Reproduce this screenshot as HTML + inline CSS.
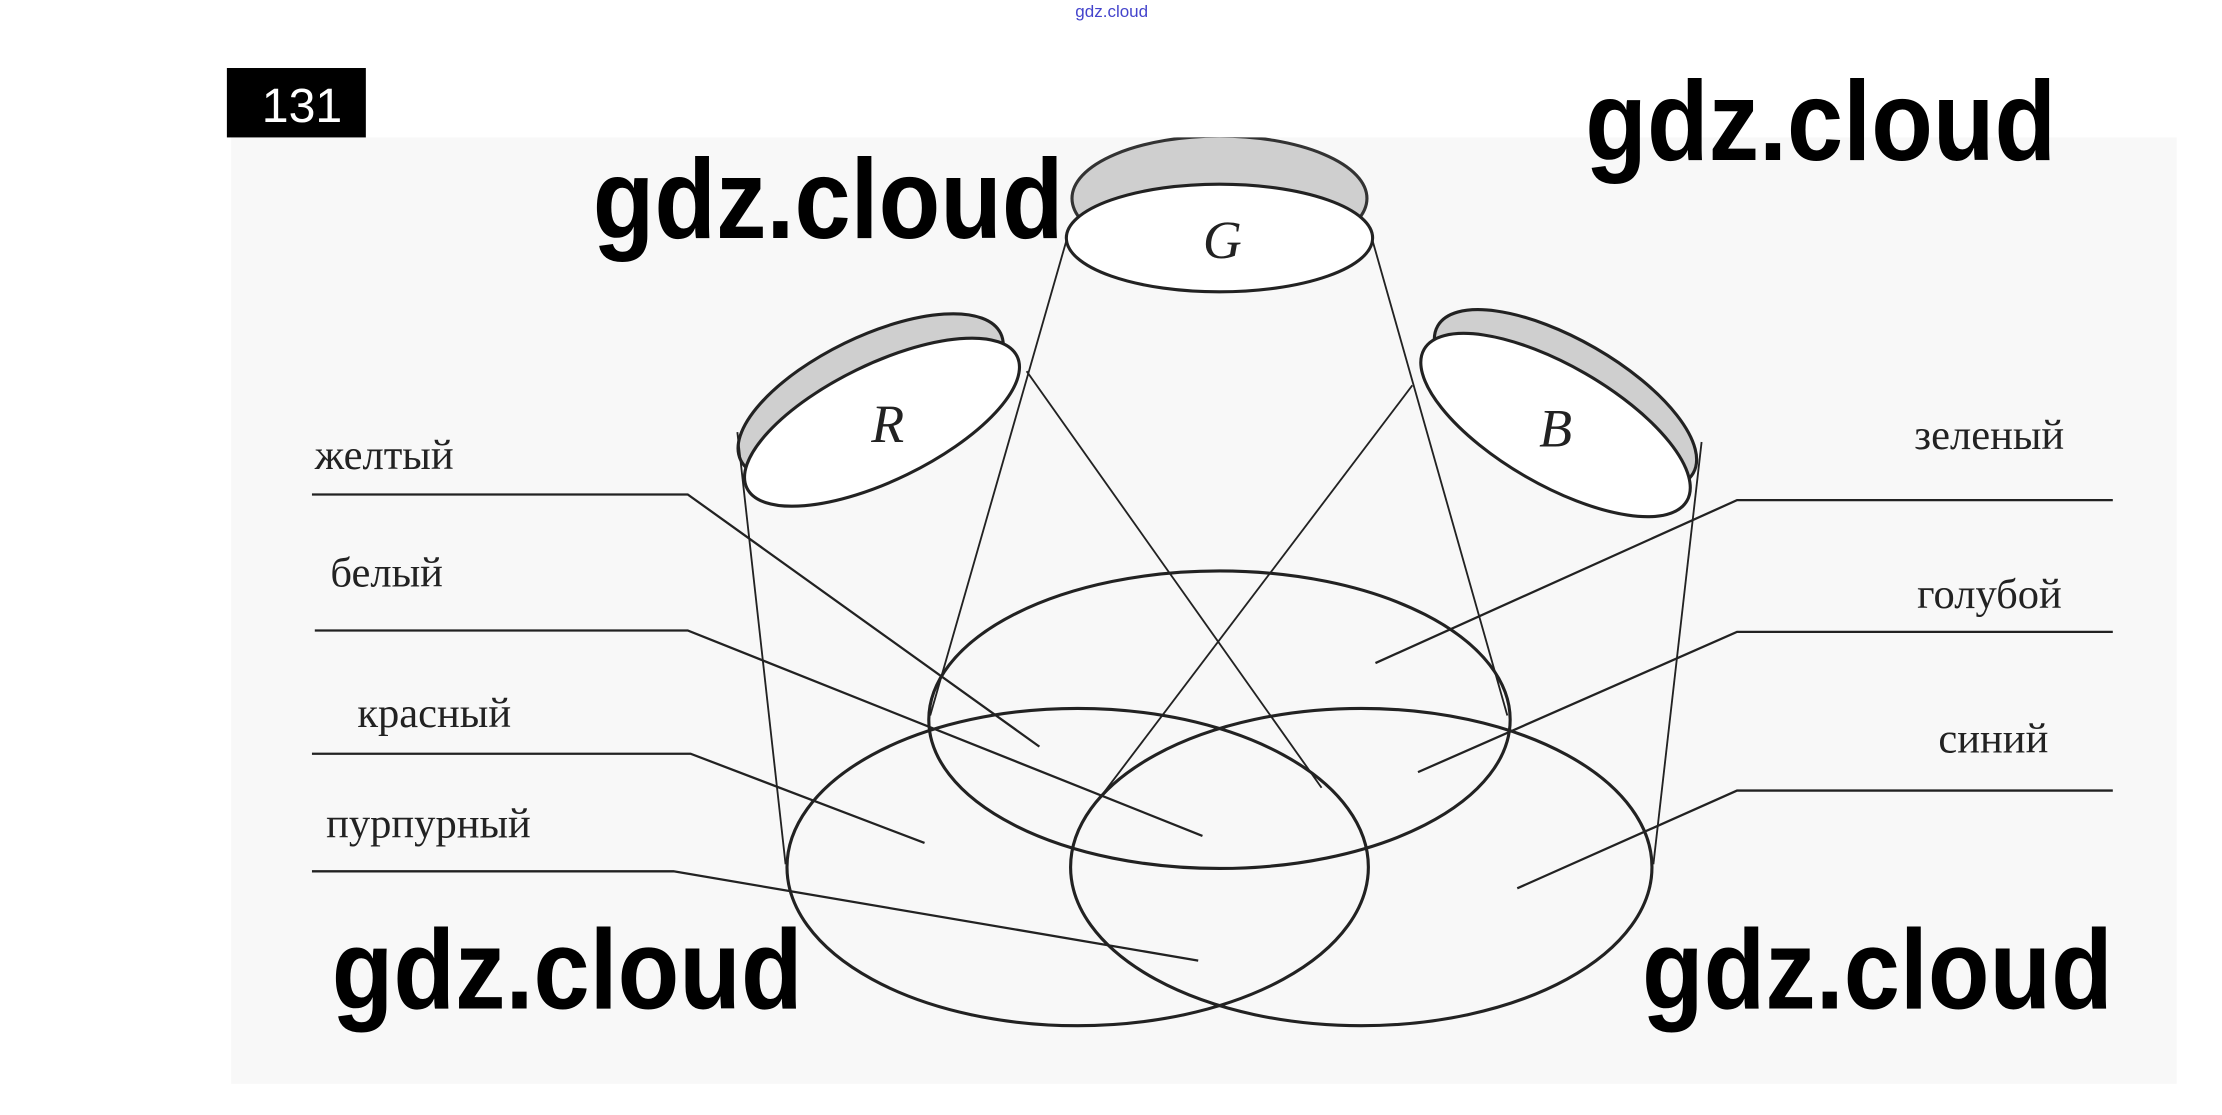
<!DOCTYPE html>
<html><head><meta charset="utf-8"><style>
html,body{margin:0;padding:0;background:#fff;}
svg{display:block;}
</style></head><body>
<svg width="2222" height="1115" viewBox="0 0 1567 787" preserveAspectRatio="none" xmlns="http://www.w3.org/2000/svg">
<defs>
<clipPath id="cp"><rect x="163" y="97" width="1372" height="670"/></clipPath>
</defs>
<rect x="0" y="0" width="1567" height="787" fill="#fff"/>
<text x="784" y="12" font-family="Liberation Sans, sans-serif" font-size="12" fill="#4444cc" text-anchor="middle">gdz.cloud</text>
<rect x="163" y="97" width="1372" height="668" fill="#f8f8f8"/>
<rect x="160" y="48" width="98" height="49" fill="#000"/>
<text x="213" y="86" font-family="Liberation Sans, sans-serif" font-size="34" fill="#fff" text-anchor="middle">131</text>
<g clip-path="url(#cp)" fill="none" stroke="#222" stroke-width="2.2">
<ellipse cx="860" cy="140" rx="104" ry="44" fill="#cfcfcf" stroke="#333"/>
<ellipse cx="860" cy="168" rx="108" ry="38" fill="#fff"/>
<g transform="rotate(-26 614 280)"><ellipse cx="614" cy="280" rx="102" ry="42" fill="#cfcfcf"/></g>
<g transform="rotate(-26 622 298)"><ellipse cx="622" cy="298" rx="106" ry="41" fill="#fff"/></g>
<g transform="rotate(30 1104 282)"><ellipse cx="1104" cy="282" rx="104" ry="42" fill="#cfcfcf"/></g>
<g transform="rotate(30 1097 300)"><ellipse cx="1097" cy="300" rx="107" ry="42" fill="#fff"/></g>
<g stroke-width="1.3">
<line x1="752" y1="170" x2="656" y2="505"/>
<line x1="968" y1="170" x2="1063" y2="505"/>
<line x1="520" y1="305" x2="554" y2="610"/>
<line x1="724" y1="262" x2="932" y2="556"/>
<line x1="996" y1="272" x2="778" y2="560"/>
<line x1="1200" y1="312" x2="1166" y2="610"/>
</g>
<ellipse cx="860" cy="508" rx="205" ry="105"/>
<ellipse cx="760" cy="612" rx="205" ry="112"/>
<ellipse cx="960" cy="612" rx="205" ry="112"/>
<g stroke-width="1.6">
<polyline points="220,349 485,349 733,527"/>
<polyline points="222,445 485,445 848,590"/>
<polyline points="220,532 487,532 652,595"/>
<polyline points="220,615 475,615 845,678"/>
<polyline points="1490,353 1225,353 970,468"/>
<polyline points="1490,446 1225,446 1000,545"/>
<polyline points="1490,558 1225,558 1070,627"/>
</g>
</g>
<g font-family="Liberation Serif, serif" font-style="italic" font-size="38" fill="#222" text-anchor="middle">
<text x="862" y="182">G</text>
<text x="626" y="312">R</text>
<text x="1097" y="315">B</text>
</g>
<g font-family="Liberation Serif, serif" font-size="30" fill="#222">
<text x="222" y="331">желтый</text>
<text x="233" y="414">белый</text>
<text x="252" y="513">красный</text>
<text x="230" y="591">пурпурный</text>
<text x="1350" y="317">зеленый</text>
<text x="1352" y="429">голубой</text>
<text x="1367" y="531">синий</text>
</g>
<g font-family="Liberation Sans, sans-serif" font-weight="bold" font-size="80" fill="#000">
<text x="418" y="168" textLength="332" lengthAdjust="spacingAndGlyphs">gdz.cloud</text>
<text x="1118" y="113" textLength="332" lengthAdjust="spacingAndGlyphs">gdz.cloud</text>
<text x="234" y="712" textLength="332" lengthAdjust="spacingAndGlyphs">gdz.cloud</text>
<text x="1158" y="712" textLength="332" lengthAdjust="spacingAndGlyphs">gdz.cloud</text>
</g>
</svg>
</body></html>
